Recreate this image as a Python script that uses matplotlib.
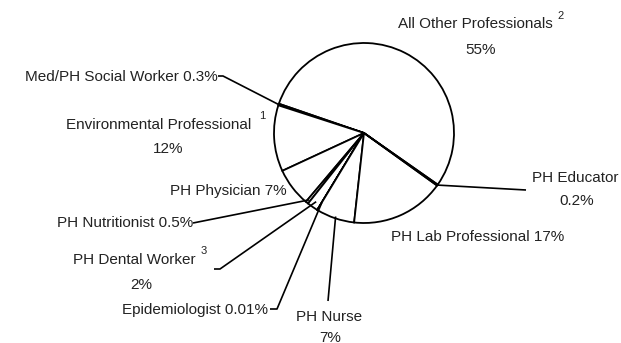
import numpy as np
import matplotlib
matplotlib.use("Agg")
import matplotlib.pyplot as plt

plt.rcParams['font.family'] = ['Liberation Sans', 'DejaVu Sans']

# share of workforce by occupation (percent), counter-clockwise from "All Other"
categories = ['All Other Professionals', 'Med/PH Social Worker', 'Environmental Professional',
              'PH Physician', 'PH Nutritionist', 'PH Dental Worker', 'Epidemiologist',
              'PH Nurse', 'PH Lab Professional', 'PH Educator']
shares = [55, 0.3, 12, 7, 0.5, 2, 0.01, 7, 17, 0.2]
pct_labels = ['55%', '0.3%', '12%', '7%', '0.5%', '2%', '0.01%', '7%', '17%', '0.2%']

W, H = 621, 343
fig = plt.figure(figsize=(W / 100, H / 100), dpi=100)
ax = fig.add_axes([0, 0, 1, 1])

cx, cy, R = 364, H - 133, 90
wedges, _ = ax.pie(shares, startangle=-35, counterclock=True, center=(cx, cy), radius=R,
                   colors=['white'] * len(shares),
                   wedgeprops=dict(edgecolor='black', linewidth=1.3), frame=True)
ax.set_xlim(0, W)
ax.set_ylim(0, H)
ax.set_aspect('equal')
ax.axis('off')

fs = 11
txt = dict(fontsize=fs, color='#222222')


def edge(i, r=1.0):
    w = wedges[i]
    a = np.deg2rad((w.theta1 + w.theta2) / 2)
    return cx + r * R * np.cos(a), cy + r * R * np.sin(a)


def put(x, y, s, ha='center'):
    ax.text(x, H - y, s, ha=ha, va='center', **txt)


def sup(x, y, s):
    ax.text(x, H - y, s, ha='center', va='center', fontsize=8, color='#222222')


def leader(pts, i, r=1.0):
    xs = [p[0] for p in pts]
    ys = [H - p[1] for p in pts]
    ex, ey = edge(i, r)
    ax.plot(xs + [ex], ys + [ey], color='black', lw=1.2, solid_capstyle='butt')


# All Other Professionals
put(475, 24, categories[0])
sup(561, 16, '2')
put(481, 50, pct_labels[0])

# Med/PH Social Worker
put(218, 77, f'{categories[1]} {pct_labels[1]}', ha='right')
leader([(218, 76), (223, 76)], 1)

# Environmental Professional
put(159, 125, categories[2])
sup(262, 116, '1')
put(168, 149, pct_labels[2])

# PH Physician
put(287, 191, f'{categories[3]} {pct_labels[3]}', ha='right')

# PH Nutritionist
put(193, 223, f'{categories[4]} {pct_labels[4]}', ha='right')
leader([(193, 223)], 4, 0.96)

# PH Dental Worker
put(134, 260, categories[5])
sup(204, 251, '3')
put(141, 285, pct_labels[5])
leader([(214, 269), (220, 269)], 5, 0.93)

# Epidemiologist
put(268, 310, f'{categories[6]} {pct_labels[6]}', ha='right')
leader([(270, 309), (277, 309)], 6, 0.9)

# PH Nurse
put(329, 317, categories[7])
put(330, 338, pct_labels[7])
leader([(328, 301)], 7, 0.98)

# PH Lab Professional
put(478, 237, f'{categories[8]} {pct_labels[8]}')

# PH Educator
put(575, 178, categories[9])
put(577, 201, pct_labels[9])
leader([(526, 190)], 9)

fig.savefig('out.png', dpi=100)
